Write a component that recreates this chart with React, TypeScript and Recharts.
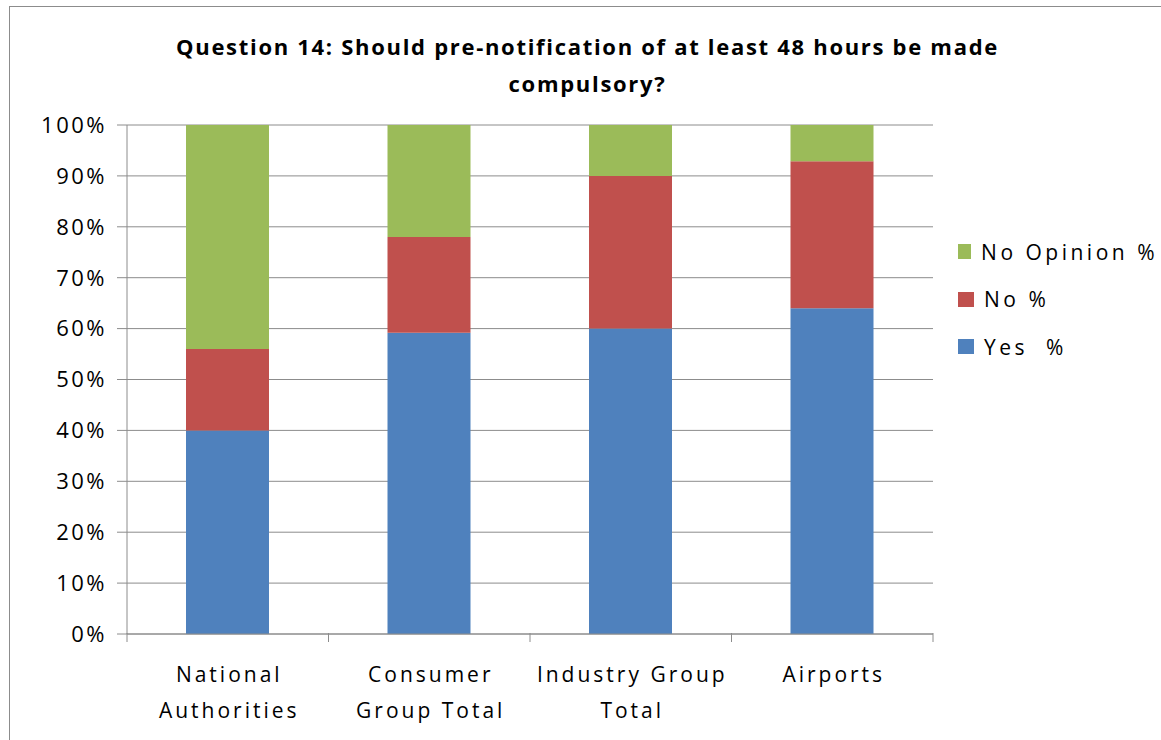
import { BarChart, Bar, XAxis, YAxis, CartesianGrid, Legend } from "recharts";

const categories = ["National Authorities", "Consumer Group Total", "Industry Group Total", "Airports"];
const categoryLines = [["National", "Authorities"], ["Consumer", "Group Total"], ["Industry Group", "Total"], ["Airports"]];
const yesPct = [40, 59.2, 60, 64];
const noPct = [16, 18.8, 30, 28.9];
const noOpinionPct = [44, 22, 10, 7.1];
const yTicks = [0, 10, 20, 30, 40, 50, 60, 70, 80, 90, 100];

const data = categories.map((c, i) => ({
  name: c,
  yes: yesPct[i],
  no: noPct[i],
  noOpinion: noOpinionPct[i],
}));

const FONT = "'Open Sans', sans-serif";
const GRID = "#8c8c8c";

const legendItems = [
  { label: "No Opinion %", color: "#9bbb59" },
  { label: "No %", color: "#c0504d" },
  { label: "Yes  %", color: "#4f81bd" },
];

function CategoryTick(props: any) {
  const { x, y, payload, index } = props;
  const half = payload?.offset ?? 100.75;
  const lines: string[] = categoryLines[index] ?? [String(payload.value)];
  return (
    <g>
      <line x1={x - half} x2={x - half} y1={y - 9} y2={y} stroke={GRID} />
      {index === categories.length - 1 && <line x1={x + half} x2={x + half} y1={y - 9} y2={y} stroke={GRID} />}
      {lines.map((l, k) => (
        <text key={k} x={x + 1.5} y={y + 40 + k * 36} textAnchor="middle" fontFamily={FONT} fontSize={21} letterSpacing={3} fill="#000">
          {l}
        </text>
      ))}
    </g>
  );
}

function LegendBox() {
  return (
    <div style={{ fontFamily: FONT, fontSize: 21, letterSpacing: 3.5 }}>
      {legendItems.map((it) => (
        <div key={it.label} style={{ display: "flex", alignItems: "center", height: 47.5 }}>
          <span style={{ width: 16, height: 15, background: it.color, marginRight: 10, display: "inline-block" }} />
          <span style={{ whiteSpace: "pre" }}>{it.label}</span>
        </div>
      ))}
    </div>
  );
}

export default function App() {
  return (
    <div style={{ position: "absolute", left: 0, top: 0, width: 1161, height: 740, background: "#fff", overflow: "hidden" }}>
      <div style={{ position: "absolute", left: 9, top: 6, width: 1200, height: 800, borderLeft: "1px solid #8c8c8c", borderTop: "1px solid #8c8c8c" }} />
      <div
        style={{
          position: "absolute",
          left: 0,
          width: 1175,
          top: 28,
          textAlign: "center",
          fontFamily: FONT,
          fontWeight: 700,
          fontSize: 22,
          letterSpacing: 1.7,
          lineHeight: "37px",
          color: "#000",
        }}
      >
        Question 14: Should pre-notification of at least 48 hours be made
        <br />
        compulsory?
      </div>
      <BarChart width={1161} height={740} data={data} margin={{ top: 125, right: 28, bottom: 0, left: 0 }} style={{ position: "absolute", left: 0, top: 0 }}>
        <CartesianGrid vertical={false} stroke={GRID} />
        <XAxis dataKey="name" height={106} axisLine={{ stroke: GRID }} tickLine={false} tick={<CategoryTick />} interval={0} />
        <YAxis
          width={127}
          domain={[0, 100]}
          ticks={yTicks}
          tickFormatter={(v) => `${v}%`}
          axisLine={{ stroke: GRID }}
          tickLine={{ stroke: GRID }}
          tickSize={10}
          tickMargin={10}
          tick={{ fontFamily: FONT, fontSize: 22, fill: "#000", letterSpacing: 2.5 }}
        />
        <Legend layout="vertical" align="right" verticalAlign="top" content={<LegendBox />} wrapperStyle={{ left: 958, top: 228, width: 200 }} />
        <Bar dataKey="yes" stackId="a" fill="#4f81bd" barSize={83} isAnimationActive={false} />
        <Bar dataKey="no" stackId="a" fill="#c0504d" barSize={83} isAnimationActive={false} />
        <Bar dataKey="noOpinion" stackId="a" fill="#9bbb59" barSize={83} isAnimationActive={false} />
      </BarChart>
    </div>
  );
}
